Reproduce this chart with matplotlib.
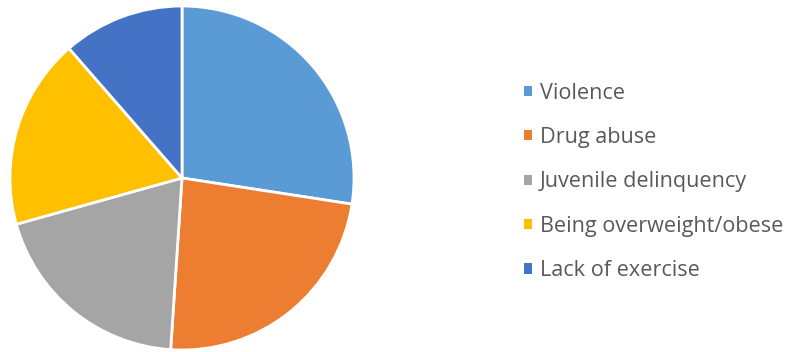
import matplotlib
matplotlib.use('Agg')
from matplotlib import pyplot as plt
from matplotlib.patches import Patch

# data
categories = ['Violence', 'Drug abuse', 'Juvenile delinquency', 'Being overweight/obese', 'Lack of exercise']
shares = [27.4, 23.6, 19.6, 17.9, 11.4]
colours = ['#5B9BD5', '#ED7D31', '#A5A5A5', '#FFC000', '#4472C4']

W, H = 795, 352
fig = plt.figure(figsize=[W / 100, H / 100], dpi=100)

# pie centred at (182, 178) px with radius 172 px
ax = fig.add_axes([10 / W, (H - 350) / H, 344 / W, 344 / H])
ax.pie(shares, colors=colours, startangle=90, counterclock=False, radius=1,
       wedgeprops=dict(edgecolor='white', linewidth=2.0))
ax.set_xlim(-1, 1)
ax.set_ylim(-1, 1)
ax.set_aspect('equal')
ax.axis('off')

handles = [Patch(facecolor=c, edgecolor='none') for c in colours]
fig.legend(handles, categories, loc='center left', bbox_to_anchor=(524 / W, (H - 182) / H),
           frameon=False, handlelength=0.35, handleheight=0.35, handletextpad=0.4,
           labelspacing=1.08, borderaxespad=0, borderpad=0,
           prop={'family': 'Open Sans', 'size': 15.6}, labelcolor='#595959')

plt.savefig('out.png', dpi=100)
plt.close()
